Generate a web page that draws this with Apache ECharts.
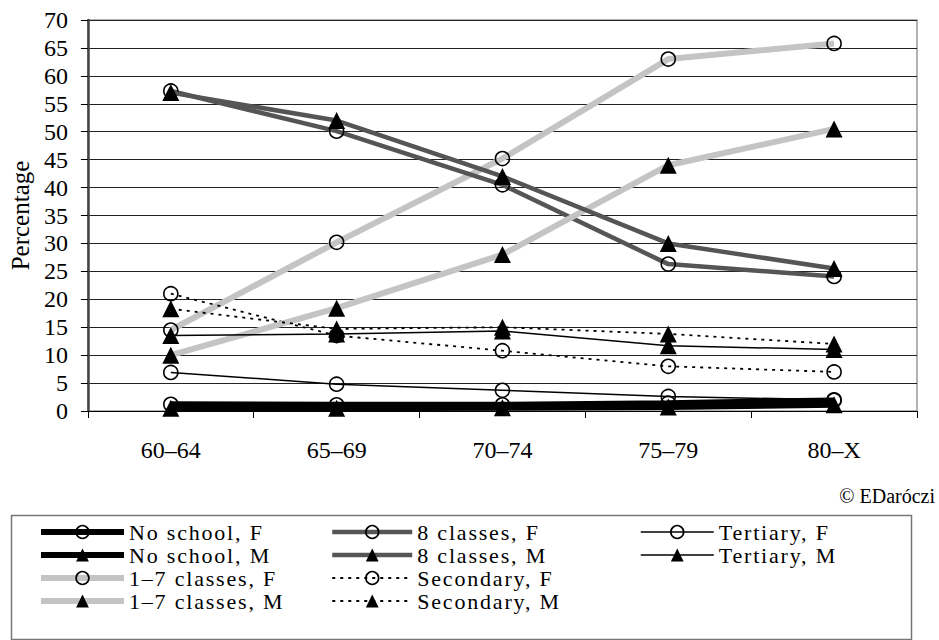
<!DOCTYPE html>
<html>
<head>
<meta charset="utf-8">
<script src="https://cdn.jsdelivr.net/npm/echarts@6/dist/echarts.min.js"></script>
<style>
html,body{margin:0;padding:0;background:#fff;}
#c{width:939px;height:640px;}
#c text[style*="22px"], #c text[font-size="22"], #c text[font-size="22px"] { letter-spacing: 1.8px; }
</style>
</head>
<body>
<div id="c"></div>
<script>
var categories = ['60–64', '65–69', '70–74', '75–79', '80–X'];
var yTicks = [0, 5, 10, 15, 20, 25, 30, 35, 40, 45, 50, 55, 60, 65, 70];

var noSchoolF = [1.2, 1.1, 1.1, 1.4, 1.9];
var noSchoolM = [0.5, 0.5, 0.6, 0.7, 1.1];
var classes17F = [14.5, 30.2, 45.2, 63.0, 65.8];
var classes17M = [10.0, 18.4, 28.0, 44.0, 50.5];
var classes8F = [57.3, 50.1, 40.5, 26.3, 24.1];
var classes8M = [57.0, 52.0, 42.0, 30.0, 25.5];
var secondaryF = [21.0, 13.5, 10.8, 8.0, 7.0];
var secondaryM = [18.3, 14.7, 15.0, 13.8, 12.0];
var tertiaryF = [6.9, 4.8, 3.7, 2.6, 2.0];
var tertiaryM = [13.5, 13.8, 14.3, 11.7, 11.0];

var FONT = '"Liberation Serif", "DejaVu Serif", serif';

function mk(name, data, line, isF) {
  return {
    name: name,
    type: 'line',
    data: data,
    symbol: isF ? 'circle' : 'triangle',
    symbolSize: isF ? 14 : 17,
    showSymbol: true,
    lineStyle: line,
    itemStyle: isF
      ? { color: 'rgba(255,255,255,0)', borderColor: '#000', borderWidth: 1.6 }
      : { color: '#000', borderWidth: 0 },
    emphasis: { disabled: true },
    animation: false,
    z: isF ? 2 : 3
  };
}

var thick = { color: '#000', width: 6 };
var light = { color: '#c4c4c4', width: 6 };
var dark = { color: '#555', width: 4.5 };
var dotted = { color: '#000', width: 1.8, type: [3, 5] };
var thin = { color: '#000', width: 1.5 };

var series = [
  mk('No school, F', noSchoolF, thick, true),
  mk('No school, M', noSchoolM, thick, false),
  mk('1–7 classes, F', classes17F, light, true),
  mk('1–7 classes, M', classes17M, light, false),
  mk('8 classes, F', classes8F, dark, true),
  mk('8 classes, M', classes8M, dark, false),
  mk('Secondary, F', secondaryF, dotted, true),
  mk('Secondary, M', secondaryM, dotted, false),
  mk('Tertiary, F', tertiaryF, thin, true),
  mk('Tertiary, M', tertiaryM, thin, false)
];

function legendCol(names, left, w) {
  return {
    data: names,
    orient: 'vertical',
    left: left,
    top: 521,
    height: 112,
    padding: 0,
    itemWidth: w,
    itemHeight: 16,
    itemGap: 1,
    selectedMode: false,
    lineStyle: { width: 'inherit' },
    itemStyle: { borderWidth: 'inherit' },
    textStyle: { fontFamily: FONT, fontSize: 22, lineHeight: 20, color: '#000' }
  };
}

var chart = echarts.init(document.getElementById('c'), null, { renderer: 'svg' });
chart.setOption({
  backgroundColor: '#fff',
  animation: false,
  grid: { left: 84, right: 22, top: 20, bottom: 229, show: true, borderColor: '#9a9a9a', borderWidth: 1.5, backgroundColor: 'transparent' },
  xAxis: {
    type: 'category',
    data: categories,
    boundaryGap: true,
    axisLine: { lineStyle: { color: '#000', width: 1 } },
    axisTick: { show: true, length: 7, lineStyle: { color: '#000' } },
    axisLabel: { fontFamily: FONT, fontSize: 24, color: '#000', margin: 27 }
  },
  yAxis: {
    type: 'value',
    min: yTicks[0],
    max: yTicks[yTicks.length - 1],
    interval: 5,
    name: 'Percentage',
    nameLocation: 'middle',
    nameGap: 49,
    nameRotate: 90,
    nameTextStyle: { fontFamily: FONT, fontSize: 25, color: '#000' },
    axisLine: { show: true, lineStyle: { color: '#444', width: 2.5 } },
    axisTick: { show: true, length: 7, lineStyle: { color: '#000' } },
    axisLabel: { fontFamily: FONT, fontSize: 24, color: '#000', margin: 20 },
    splitLine: { show: true, lineStyle: { color: '#222', width: 1 } }
  },
  legend: [
    legendCol(['No school, F', 'No school, M', '1–7 classes, F', '1–7 classes, M'], 38, 83),
    legendCol(['8 classes, F', '8 classes, M', 'Secondary, F', 'Secondary, M'], 330, 80),
    legendCol(['Tertiary, F', 'Tertiary, M'], 640, 73)
  ],
  graphic: [
    { type: 'rect', left: 9, top: 513, shape: { width: 900, height: 124 }, style: { fill: 'none', stroke: '#777', lineWidth: 1.5 }, z: -1 },
    { type: 'text', right: 4, top: 486, style: { text: '© EDaróczi', font: '20px ' + FONT, fill: '#000' } }
  ],
  series: series
});
</script>
</body>
</html>
